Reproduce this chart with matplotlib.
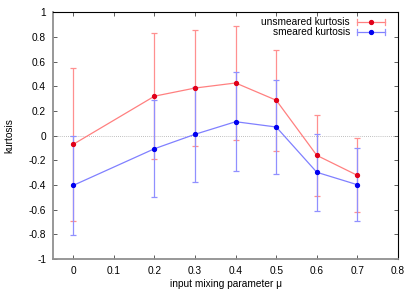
import matplotlib
matplotlib.use("Agg")
import matplotlib.pyplot as plt
from matplotlib.lines import Line2D

mu = [0.0, 0.2, 0.3, 0.4, 0.5, 0.6, 0.7]
unsmeared = [-0.07, 0.32, 0.386, 0.427, 0.287, -0.16, -0.322]
unsmeared_err = [0.62, 0.51, 0.47, 0.46, 0.41, 0.327, 0.30]
smeared = [-0.403, -0.106, 0.011, 0.113, 0.07, -0.297, -0.398]
smeared_err = [0.40, 0.395, 0.387, 0.40, 0.38, 0.31, 0.295]

xticks = [0, 0.1, 0.2, 0.3, 0.4, 0.5, 0.6, 0.7, 0.8]
yticks = [-1, -0.8, -0.6, -0.4, -0.2, 0, 0.2, 0.4, 0.6, 0.8, 1]

plt.rcParams['font.family'] = ['Liberation Sans', 'DejaVu Sans']
fs = 7.3

fig = plt.figure(figsize=(4.15, 2.91), dpi=100)
ax = fig.add_axes([53/415, 1-259/291, (398-53)/415, (259-12.3)/291])

ax.axhline(0, color='#aaaaaa', lw=0.6, ls=(0, (1, 1.5)), zorder=1)

series = [
    (unsmeared, unsmeared_err, '#ff8080', '#ff9090', '#e0001a', 'unsmeared kurtosis'),
    (smeared, smeared_err, '#8080ff', '#9090ff', '#0000f0', 'smeared kurtosis'),
]
for vals, errs, lc, ec, mc, lab in series:
    ax.errorbar(mu, vals, yerr=errs, fmt='none', ecolor=ec, elinewidth=0.9,
                capsize=2, capthick=0.9, zorder=2)
    ax.plot(mu, vals, color=lc, lw=0.9, zorder=3)
    ax.plot(mu, vals, ls='none', marker='o', ms=2.8, color=mc, mec=mc, zorder=4)

ax.set_xlim(-0.05, 0.8)
ax.set_ylim(-1, 1)
ax.set_xticks(xticks)
ax.set_xticklabels([f"{t:g}" for t in xticks])
ax.set_yticks(yticks)
ax.set_yticklabels([f"{t:g}" for t in yticks])
ax.tick_params(direction='in', top=True, right=True, length=3, width=0.6,
               labelsize=fs, pad=5, color='#444444')
ax.set_xlabel('input mixing parameter μ', fontsize=fs, labelpad=2)
ax.set_ylabel('kurtosis', fontsize=fs, labelpad=10)

for s in ['left', 'bottom']:
    ax.spines[s].set_color('#909090')
    ax.spines[s].set_linewidth(1.3)
for s in ['top', 'right']:
    ax.spines[s].set_color('black')
    ax.spines[s].set_linewidth(0.8)

# gnuplot-style legend
for i, (vals, errs, lc, ec, mc, lab) in enumerate(series):
    yy = 1 - (21.7 + 10.5 * i - 12.3) / (259 - 12.3)
    x_text = (350 - 53) / 345
    x0 = (357 - 53) / 345
    x1 = (385 - 53) / 345
    xm = (371 - 53) / 345
    ax.text(x_text, yy, lab, transform=ax.transAxes, ha='right', va='center', fontsize=fs)
    ax.add_line(Line2D([x0, x1], [yy, yy], transform=ax.transAxes, color=lc, lw=0.9))
    for xc in (x0, x1):
        ax.add_line(Line2D([xc, xc], [yy - 0.012, yy + 0.012], transform=ax.transAxes,
                           color=ec, lw=0.9))
    ax.add_line(Line2D([xm], [yy], transform=ax.transAxes, ls='none', marker='o',
                       ms=2.8, color=mc))

fig.savefig('out.png', dpi=100)
